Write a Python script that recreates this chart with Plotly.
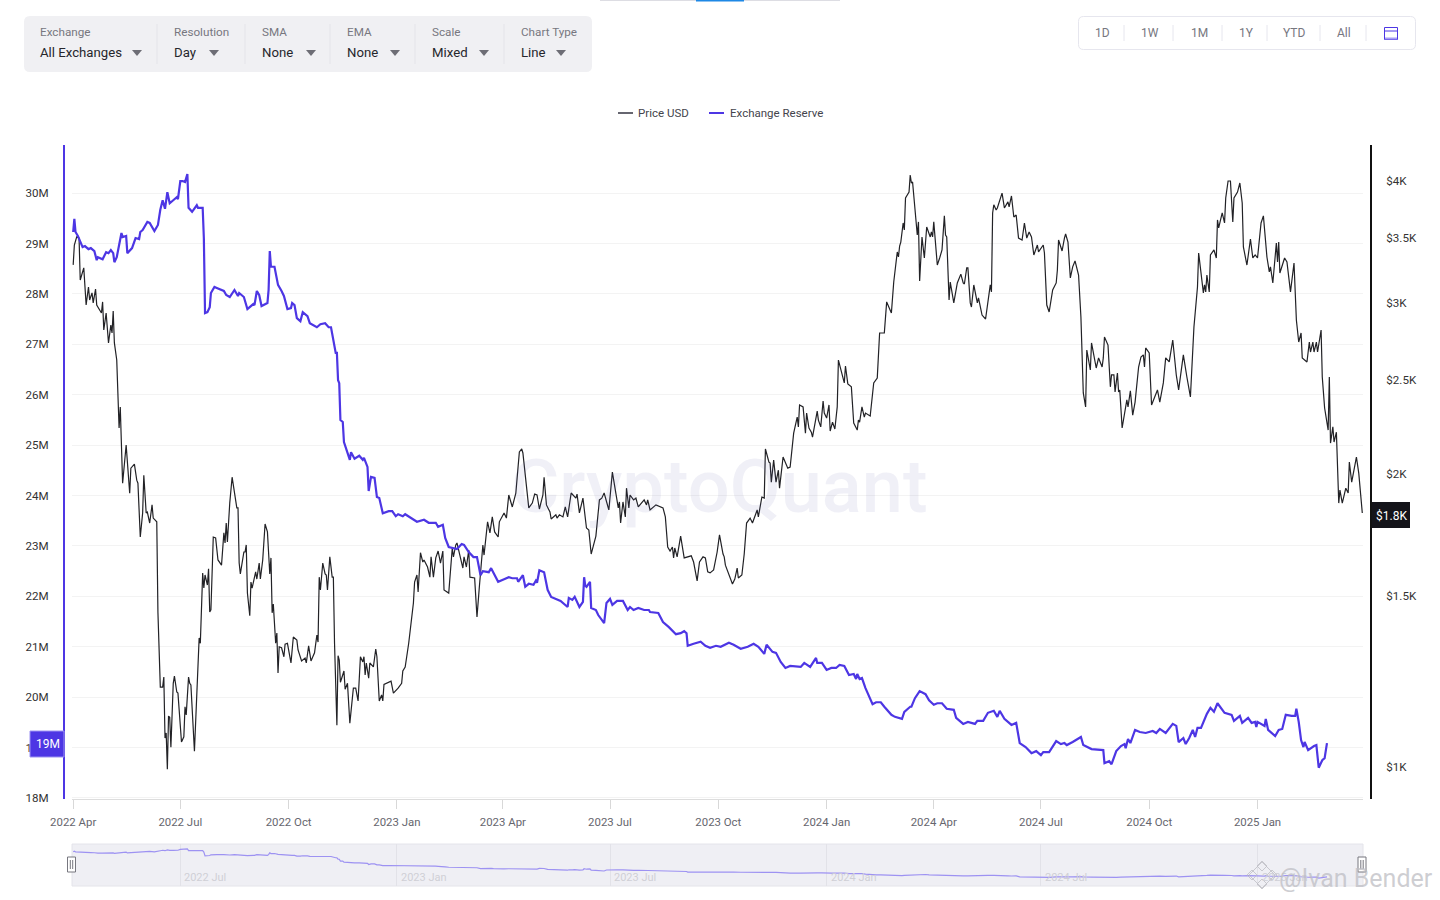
import pandas as pd
import plotly.graph_objects as go

W = 1440
H = 900
FONT = "Roboto"

start_date = pd.Timestamp("2022-04-01")

# (days since 2022-04-01, price in USD)
price_points = [
    (0,3280),(1,3438),(3,3505),(5,3495),(6,3165),(8,3226),(9,3257),(11,2983),(13,3113),(14,3019),(16,3070),(17,2998),
    (19,3098),(20,2983),(24,2927),(25,3005),(26,2812),(28,2927),(30,2727),(32,2845),(33,2792),(34,2941),(35,2727),(37,2619),
    (38,2344),(39,2230),(40,2344),(42,1957),(45,2142),(48,1911),(49,2028),(52,2047),(54,1971),(55,1957),(57,1723),(59,1824),
    (60,1994),(62,1824),(63,1828),(65,1781),(67,1859),(68,1802),(71,1786),(72,1440),(74,1208),(76,1208),(77,1237),(78,1071),
    (79,1084),(80,995),(81,1128),(82,1125),(83,1048),(85,1219),(86,1240),(88,1194),(89,1191),(92,1061),(94,1074),(95,1153),
    (96,1131),(98,1237),(99,1219),(100,1214),(103,1038),(105,1191),(106,1237),(107,1357),(108,1340),(110,1582),(111,1527),(112,1575),
    (114,1538),(115,1598),(116,1443),(117,1450),(119,1723),(121,1719),(123,1632),(126,1612),(128,1740),(129,1699),(130,1781),(131,1703),
    (133,1867),(135,1985),(139,1846),(140,1846),(141,1620),(142,1579),(145,1663),(146,1663),(147,1691),(148,1509),(150,1430),(151,1549),
    (152,1527),(155,1587),(156,1560),(158,1620),(159,1560),(161,1632),(163,1777),(165,1744),(167,1579),(168,1640),(169,1440),(170,1470),
    (172,1340),(173,1373),(174,1249),(175,1329),(177,1326),(179,1298),(180,1337),(182,1340),(185,1279),(187,1360),(190,1350),(191,1319),
    (194,1285),(197,1294),(198,1279),(200,1332),(202,1285),(205,1310),(207,1366),(208,1344),(209,1567),(210,1520),(212,1620),(214,1579),
    (215,1575),(216,1520),(218,1644),(220,1567),(221,1567),(222,1340),(224,1104),(225,1301),(226,1288),(227,1222),(230,1255),(231,1202),
    (233,1219),(235,1109),(238,1205),(240,1205),(242,1169),(244,1298),(246,1282),(247,1298),(248,1243),(249,1279),(251,1234),(252,1279),
    (255,1267),(257,1322),(258,1298),(260,1169),(262,1186),(263,1169),(264,1216),(270,1225),(272,1191),(276,1205),(279,1219),(280,1255),
    (282,1267),(285,1340),(289,1474),(290,1549),(292,1575),(293,1513),(295,1660),(297,1624),(298,1632),(301,1605),(303,1567),(304,1644),
    (306,1567),(308,1640),(310,1667),(312,1620),(314,1667),(315,1520),(319,1509),(322,1679),(323,1644),(325,1691),(326,1699),(329,1640),
    (331,1601),(332,1644),(334,1605),(336,1671),(337,1567),(341,1564),(343,1426),(345,1531),(348,1691),(349,1651),(351,1752),(352,1786),
    (354,1740),(356,1807),(358,1744),(361,1723),(362,1786),(366,1824),(368,1802),(370,1903),(373,1850),(376,1912),(379,2107),(381,2122),
    (382,2102),(385,1939),(387,1846),(390,1867),(392,1907),(394,1903),(396,1841),(399,1903),(400,1985),(402,1859),(405,1828),(406,1798),
    (410,1816),(411,1802),(413,1816),(416,1807),(418,1850),(420,1807),(423,1912),(427,1889),(428,1907),(430,1824),(433,1889),(436,1760),
    (438,1752),(440,1655),(444,1727),(447,1881),(449,1889),(451,1912),(455,1837),(458,2009),(461,1912),(463,1846),(464,1872),(465,1781),
    (467,1872),(469,1807),(470,1934),(472,1846),(473,1903),(476,1881),(478,1889),(480,1850),(485,1881),(487,1859),(488,1881),(490,1837),
    (495,1859),(501,1846),(503,1807),(505,1683),(507,1667),(509,1683),(510,1640),(511,1679),(513,1644),(516,1727),(519,1640),(525,1648),
    (527,1624),(530,1553),(532,1624),(535,1644),(537,1640),(539,1587),(541,1583),(544,1594),(547,1663),(549,1732),(552,1655),(553,1644),
    (554,1612),(557,1575),(560,1542),(562,1560),(564,1601),(565,1564),(568,1575),(570,1655),(572,1781),(575,1802),(577,1781),(581,1837),
    (582,1807),(585,1894),(587,1889),(588,2122),(591,2057),(592,2052),(593,1962),(595,2067),(597,1962),(599,2018),(600,1934),(603,2082),
    (607,2028),(609,2033),(611,2167),(612,2203),(615,2288),(616,2236),(617,2355),(620,2344),(622,2203),(623,2310),(625,2230),(627,2208),
    (628,2182),(632,2321),(633,2272),(635,2236),(637,2377),(638,2310),(640,2283),(642,2355),(643,2214),(645,2261),(647,2225),(649,2344),
    (650,2619),(653,2528),(655,2481),(656,2582),(658,2475),(661,2458),(663,2256),(666,2219),(667,2272),(668,2261),(670,2344),(672,2288),
    (673,2310),(677,2294),(679,2423),(680,2481),(683,2510),(684,2663),(685,2792),(689,2792),(691,3005),(695,2927),(697,3150),(700,3382),
    (701,3342),(702,3430),(703,3462),(705,3622),(706,3563),(707,3843),(710,3897),(711,4057),(712,3981),(713,3991),(717,3520),(718,3631),
    (719,3158),(721,3504),(723,3334),(725,3588),(728,3504),(729,3546),(730,3504),(731,3631),(734,3279),(736,3334),(738,3398),(740,3683),
    (741,3520),(742,3504),(744,3019),(745,3150),(748,2998),(751,3143),(754,3209),(756,3143),(757,3135),(759,3257),(760,3257),(762,2998),
    (763,2969),(765,3128),(768,2998),(769,3033),(772,2913),(775,2886),(777,3019),(779,3128),(780,3077),(781,3709),(782,3781),(784,3735),
    (785,3753),(789,3887),(791,3753),(794,3807),(795,3762),(797,3861),(799,3674),(801,3691),(803,3495),(806,3479),(808,3622),(810,3495),
    (812,3546),(814,3504),(816,3358),(819,3438),(820,3382),(824,3438),(825,3374),(827,2983),(829,2934),(832,3091),(835,3143),(836,3241),
    (837,3479),(840,3390),(842,3495),(843,3529),(845,3462),(847,3180),(849,3265),(851,3311),(854,3202),(856,2899),(858,2423),(860,2344),
    (861,2682),(863,2594),(864,2558),(865,2727),(869,2570),(871,2632),(874,2576),(875,2632),(876,2766),(879,2713),(881,2458),(882,2528),
    (884,2528),(885,2429),(887,2540),(888,2429),(889,2440),(891,2230),(893,2310),(895,2383),(896,2344),(898,2435),(900,2299),(902,2371),
    (905,2576),(907,2638),(909,2651),(910,2576),(911,2695),(914,2663),(916,2355),(920,2429),(921,2440),(923,2371),(926,2481),(928,2632),
    (931,2607),(934,2746),(937,2528),(939,2440),(943,2651),(946,2516),(949,2400),(952,2832),(955,3113),(956,3374),(960,3070),(961,3128),
    (962,3077),(963,3202),(965,3077),(966,3358),(969,3398),(971,3334),(972,3648),(973,3580),(976,3709),(978,3622),(979,3843),(981,4000),
    (983,4000),(985,3631),(986,3843),(989,3897),(991,3981),(993,3798),(994,3422),(997,3279),(1000,3487),(1002,3334),(1004,3358),(1006,3334),
    (1009,3622),(1011,3683),(1014,3342),(1016,3226),(1017,3265),(1019,3143),(1022,3454),(1023,3303),(1024,3462),(1025,3218),(1028,3318),(1029,3334),
    (1031,3303),(1034,3077),(1037,3295),(1039,2879),(1041,2733),(1043,2792),(1044,2632),(1048,2607),(1050,2733),(1051,2669),(1053,2733),(1054,2669),
    (1056,2733),(1057,2669),(1060,2812),(1061,2516),(1063,2338),(1066,2219),(1067,2516),(1068,2152),(1070,2236),(1071,2157),(1073,2208),(1075,1867),
    (1076,1925),(1078,1867),(1081,1934),(1083,1912),(1084,2057),(1086,1962),(1090,2082),(1092,2004),(1095,1824),
]

# (days since 2022-04-01, exchange reserve in millions)
reserve_points = [
    (0,29.23),(1,29.49),(2,29.23),(4,29.15),(8,28.93),(10,28.95),(13,28.89),(15,28.91),(18,28.85),(20,28.67),(21,28.73),(25,28.69),
    (28,28.83),(30,28.81),(32,28.87),(34,28.81),(35,28.63),(37,28.73),(41,29.21),(42,29.13),(45,29.15),(46,28.81),(50,28.91),(53,29.11),
    (56,29.09),(57,29.23),(59,29.27),(63,29.43),(65,29.41),(69,29.25),(72,29.37),(74,29.67),(76,29.86),(78,29.69),(80,30.02),(82,29.80),
    (85,29.86),(88,29.92),(89,29.88),(91,30.24),(93,30.24),(95,30.22),(97,30.38),(98,29.71),(101,29.63),(105,29.76),(106,29.71),(110,29.71),
    (111,29.11),(112,27.62),(114,27.64),(116,27.74),(117,28.02),(120,28.14),(122,28.12),(128,28.06),(130,27.98),(133,27.94),(137,28.08),(140,27.96),
    (141,28.02),(145,27.94),(148,27.70),(153,27.80),(154,27.78),(156,28.06),(158,27.98),(160,27.76),(165,27.82),(166,28.08),(167,28.85),(168,28.54),
    (171,28.54),(174,28.18),(177,28.06),(179,27.96),(182,27.70),(185,27.72),(186,27.82),(188,27.78),(190,27.52),(193,27.46),(195,27.64),(199,27.56),
    (201,27.42),(207,27.34),(210,27.40),(214,27.42),(217,27.34),(219,27.34),(223,26.83),(224,26.83),(225,26.29),(226,26.23),(227,25.50),(229,25.46),
    (230,25.06),(233,24.86),(235,24.71),(236,24.86),(239,24.73),(243,24.79),(246,24.71),(247,24.75),(250,24.57),(251,24.09),(253,24.37),(256,24.35),
    (258,23.97),(260,23.95),(263,23.65),(268,23.69),(271,23.69),(274,23.59),(276,23.63),(280,23.59),(282,23.63),(286,23.57),(292,23.48),(298,23.52),
    (302,23.46),(308,23.46),(310,23.38),(314,23.42),(316,23.16),(319,22.98),(326,22.94),(330,23.04),(332,23.02),(336,22.88),(340,22.78),(343,22.78),
    (346,22.42),(348,22.50),(353,22.48),(355,22.56),(357,22.46),(361,22.29),(366,22.34),(370,22.38),(373,22.36),(377,22.36),(378,22.29),(382,22.42),
    (384,22.19),(387,22.25),(391,22.23),(393,22.31),(394,22.27),(396,22.52),(400,22.48),(403,22.13),(406,21.99),(411,21.93),(414,21.91),(420,21.79),
    (421,21.97),(424,21.93),(426,21.99),(430,21.79),(433,21.89),(434,22.38),(435,22.21),(436,22.19),(439,22.29),(440,21.77),(444,21.73),(446,21.63),
    (451,21.47),(453,21.87),(456,21.95),(458,21.83),(462,21.91),(467,21.91),(471,21.73),(473,21.79),(476,21.73),(480,21.77),(485,21.73),(489,21.73),
    (490,21.69),(497,21.67),(501,21.49),(506,21.39),(512,21.25),(516,21.27),(519,21.31),(521,21.27),(522,21.02),(527,21.06),(533,21.10),(537,21.02),
    (541,20.98),(546,21.02),(550,21.00),(557,21.08),(561,21.04),(567,20.96),(573,21.00),(578,21.06),(582,21.00),(587,20.86),(589,21.04),(594,20.90),
    (597,20.88),(601,20.70),(605,20.58),(609,20.62),(618,20.60),(621,20.68),(626,20.60),(631,20.78),(632,20.68),(636,20.68),(640,20.54),(644,20.58),
    (648,20.58),(651,20.64),(655,20.62),(659,20.44),(663,20.46),(665,20.36),(666,20.46),(668,20.36),(670,20.38),(673,20.18),(679,19.86),(682,19.90),
    (686,19.90),(689,19.81),(695,19.65),(698,19.61),(704,19.57),(706,19.71),(711,19.81),(712,19.81),(715,19.98),(719,20.12),(724,20.06),(727,19.94),
    (731,19.85),(734,19.88),(738,19.88),(742,19.77),(748,19.75),(750,19.59),(756,19.47),(760,19.51),(766,19.47),(768,19.53),(773,19.53),(777,19.69),
    (782,19.73),(785,19.61),(787,19.73),(791,19.57),(794,19.51),(797,19.45),(801,19.49),(804,19.09),(809,19.01),(814,18.89),(818,18.93),(822,18.85),
    (824,18.91),(829,18.91),(835,19.13),(839,19.07),(842,19.09),(844,19.05),(849,19.11),(856,19.21),(858,19.05),(865,18.97),(875,18.95),(876,18.69),
    (880,18.73),(882,18.67),(886,18.93),(890,19.03),(893,19.07),(894,18.99),(896,19.17),(898,19.09),(902,19.35),(906,19.31),(911,19.29),(917,19.33),
    (920,19.29),(923,19.37),(928,19.29),(934,19.47),(937,19.43),(939,19.11),(943,19.19),(945,19.07),(948,19.19),(951,19.35),(953,19.21),(955,19.39),
    (958,19.39),(963,19.67),(966,19.79),(969,19.71),(972,19.88),(978,19.69),(984,19.65),(986,19.53),(991,19.63),(993,19.49),(998,19.59),(1001,19.49),
    (1004,19.51),(1005,19.41),(1006,19.51),(1012,19.43),(1013,19.57),(1015,19.35),(1021,19.23),(1024,19.35),(1027,19.37),(1030,19.65),(1035,19.63),(1038,19.63),
    (1039,19.77),(1041,19.51),(1043,19.15),(1045,19.01),(1046,19.11),(1049,18.95),(1054,19.03),(1056,19.05),(1058,18.60),(1061,18.75),(1063,18.79),(1065,19.09),
]

reserve_ticks = list(range(18, 31))
reserve_tick_labels = [f"{t}M" for t in reserve_ticks]
price_ticks = [1000, 1500, 2000, 2500, 3000, 3500, 4000]
price_tick_labels = ["$1K", "$1.5K", "$2K", "$2.5K", "$3K", "$3.5K", "$4K"]
nav_ticks = ["2022-07-01", "2023-01-01", "2023-07-01", "2024-01-01", "2024-07-01", "2025-01-01"]
nav_tick_labels = ["2022 Jul", "2023 Jan", "2023 Jul", "2024 Jan", "2024 Jul", "2025 Jan"]

toolbar_labels = ["Exchange", "Resolution", "SMA", "EMA", "Scale", "Chart Type"]
toolbar_values = ["All Exchanges", "Day", "None", "None", "Mixed", "Line"]
toolbar_x = [38, 172, 260, 345, 430, 519]
toolbar_arrow_x = [137, 214, 311, 395, 484, 561]
toolbar_sep_x = [157, 245, 330, 415, 504]

range_labels = ["1D", "1W", "1M", "1Y", "YTD", "All"]
range_x = [1102, 1150, 1199, 1246, 1294, 1344]
range_sep_x = [1124, 1173, 1222, 1267, 1320, 1366]

PURPLE = "#4d36e4"
BLACK = "#222226"


def px(x):
    return x / W


def py(y):
    return 1 - y / H


def to_dates(points):
    return [start_date + pd.Timedelta(days=p[0]) for p in points]


def box(x0, y0, x1, y1, fill=None, line=None, width=1, r=0, layer="above"):
    # rounded rectangle given in page pixels
    p = (
        f"M {px(x0 + r)} {py(y0)} L {px(x1 - r)} {py(y0)} Q {px(x1)} {py(y0)} {px(x1)} {py(y0 + r)} "
        f"L {px(x1)} {py(y1 - r)} Q {px(x1)} {py(y1)} {px(x1 - r)} {py(y1)} "
        f"L {px(x0 + r)} {py(y1)} Q {px(x0)} {py(y1)} {px(x0)} {py(y1 - r)} "
        f"L {px(x0)} {py(y0 + r)} Q {px(x0)} {py(y0)} {px(x0 + r)} {py(y0)} Z"
    )
    return dict(type="path", path=p, xref="paper", yref="paper", fillcolor=fill,
                line=dict(color=line if line else "rgba(0,0,0,0)", width=width if line else 0), layer=layer)


def seg(x0, y0, x1, y1, color, width=1):
    return dict(type="line", xref="paper", yref="paper", x0=px(x0), x1=px(x1), y0=py(y0), y1=py(y1),
                line=dict(color=color, width=width))


def poly(pts, fill=None, line=None, width=1):
    p = "M " + " L ".join(f"{px(a)} {py(b)}" for a, b in pts) + " Z"
    return dict(type="path", path=p, xref="paper", yref="paper", fillcolor=fill,
                line=dict(color=line if line else "rgba(0,0,0,0)", width=width if line else 0))


def label(x, y, text, size=12, color="#333", xanchor="left", **kw):
    return dict(text=text, x=px(x), y=py(y), xref="paper", yref="paper", xanchor=xanchor, yanchor="middle",
                showarrow=False, font=dict(family=FONT, size=size, color=color), **kw)


fig = go.Figure()

fig.add_trace(go.Scatter(
    x=to_dates(price_points), y=[p[1] for p in price_points],
    mode="lines", name="Price USD", line=dict(color=BLACK, width=1.2), xaxis="x", yaxis="y",
))
fig.add_trace(go.Scatter(
    x=to_dates(reserve_points), y=[p[1] for p in reserve_points],
    mode="lines", name="Exchange Reserve", line=dict(color=PURPLE, width=2.2), xaxis="x", yaxis="y2",
))
fig.add_trace(go.Scatter(
    x=to_dates(reserve_points), y=[p[1] for p in reserve_points],
    mode="lines", line=dict(color="#9d92f2", width=1.2), xaxis="x2", yaxis="y3", showlegend=False,
))

shapes = []
annotations = []

# top tab sliver
shapes.append(seg(600, 0.5, 840, 0.5, "#dddde3", 1))
shapes.append(seg(696, 0.5, 744, 0.5, "#1e88e5", 2))

# toolbar
shapes.append(box(24, 16, 592, 72, fill="#f0f0f3", r=6))
for x in toolbar_sep_x:
    shapes.append(seg(x, 24, x, 64, "#e4e4e9"))
for x, name, value, ax in zip(toolbar_x, toolbar_labels, toolbar_values, toolbar_arrow_x):
    annotations.append(label(x, 32, name, size=11.7, color="#77777f"))
    annotations.append(label(x, 52.5, value, size=13.2, color="#26262c"))
    shapes.append(poly([(ax - 5, 50), (ax + 5, 50), (ax, 56)], fill="#6d6d75"))

# range buttons
shapes.append(box(1078.5, 16.5, 1415.5, 49.5, fill="#ffffff", line="#e6e6ee", r=5))
for x in range_sep_x:
    shapes.append(seg(x, 25, x, 41, "#e6e6ee"))
for x, name in zip(range_x, range_labels):
    annotations.append(label(x, 33, name, size=12, color="#77777f", xanchor="center"))
shapes.append(box(1384.5, 27.5, 1397.5, 39.5, line=PURPLE, width=1))
shapes.append(seg(1385, 31, 1397, 31, PURPLE))
shapes.append(seg(1385, 38.5, 1397, 38.5, "#a79df3", 2))

# legend
shapes.append(seg(618, 113, 633, 113, "#666670", 2))
annotations.append(label(636, 113, "Price USD", size=11.5, color="#44444c"))
shapes.append(seg(709, 113, 724, 113, PURPLE, 2))
annotations.append(label(728, 113, "Exchange Reserve", size=11.5, color="#44444c"))

# watermark
wm = label(719, 486, "CryptoQuant", size=74, color="rgba(90,90,170,0.09)", xanchor="center")
wm["font"]["weight"] = 500
annotations.append(wm)

# last value badges
annotations.append(label(47.5, 744, reserve_tick_labels[1], size=12, color="#ffffff", xanchor="center"))
shapes.append(box(30, 731, 64, 757, fill=PURPLE, line="#9d92f2"))
shapes.append(box(1372, 502, 1410, 528, fill="#14141a"))
annotations.append(label(1391, 515.5, "$1.8K", size=12, color="#ffffff", xanchor="center"))

# navigator
shapes.append(box(72, 844, 1363, 886, fill="#efeff4", line="#e4e4ea", layer="below"))
for x in [71.5, 1362]:
    shapes.append(box(x - 4, 857, x + 4, 872, fill="#ffffff", line="#77777f"))
    shapes.append(seg(x - 1.2, 860, x - 1.2, 869, "#77777f"))
    shapes.append(seg(x + 1.2, 860, x + 1.2, 869, "#77777f"))
for d, t in zip(nav_ticks, nav_tick_labels):
    annotations.append(dict(text=t, x=d, y=py(877), xref="x2", yref="paper", xanchor="left", yanchor="middle",
                            xshift=2, showarrow=False, font=dict(family=FONT, size=11, color="#cfcfd6")))

# screenshot credit, bottom right
annotations.append(label(1277, 878, "@Ivan Bender", size=25, color="rgba(190,190,196,0.75)"))
for cx, cy, s in [(1262, 866, 5), (1252, 875, 5), (1272, 875, 5), (1262, 884, 5), (1262, 875, 13)]:
    shapes.append(poly([(cx, cy - s), (cx + s, cy), (cx, cy + s), (cx - s, cy)], line="rgba(190,190,196,0.8)"))

x_range = [start_date + pd.Timedelta(days=-1), start_date + pd.Timedelta(days=1095.6)]

fig.update_layout(
    width=W,
    height=H,
    margin=dict(l=0, r=0, t=0, b=0, autoexpand=False),
    paper_bgcolor="#ffffff",
    plot_bgcolor="#ffffff",
    showlegend=False,
    hovermode=False,
    font=dict(family=FONT, size=12, color="#333"),
    xaxis=dict(
        domain=[px(72), px(1363)], range=x_range, anchor="y", type="date",
        dtick="M3", tick0="2022-04-01", tickformat="%Y %b",
        ticks="outside", ticklen=9, tickcolor="#d8d8d8", showgrid=False,
        showline=True, linecolor="#dddddd", linewidth=1, ticklabelstandoff=3,
        tickfont=dict(family=FONT, size=11.4, color="#66666e"),
    ),
    yaxis=dict(
        domain=[py(799), py(145)], type="log", range=[2.96712, 3.63906],
        anchor="free", position=px(1371), side="right",
        tickvals=price_ticks, ticktext=price_tick_labels, showgrid=False,
        showline=True, linecolor="#111111", linewidth=2, ticklabelstandoff=12,
        tickfont=dict(family=FONT, size=11.6, color="#333"), zeroline=False,
    ),
    yaxis2=dict(
        overlaying="y", side="left", anchor="free", position=px(64),
        range=[17.98, 30.956], tickvals=reserve_ticks, ticktext=reserve_tick_labels,
        showgrid=True, gridcolor="#f3f3f3", gridwidth=1,
        showline=True, linecolor=PURPLE, linewidth=2, ticklabelstandoff=12,
        tickfont=dict(family=FONT, size=11.6, color="#333"), zeroline=False,
    ),
    xaxis2=dict(
        domain=[px(72), px(1363)], range=x_range, anchor="y3", type="date",
        tickvals=nav_ticks, showticklabels=False, showgrid=True, gridcolor="#e2e2e8",
        ticks="", showline=False, zeroline=False,
    ),
    yaxis3=dict(
        domain=[py(886), py(844)], range=[15.4, 32.4], anchor="x2",
        showticklabels=False, showgrid=False, zeroline=False, ticks="", showline=False,
    ),
    shapes=shapes,
    annotations=annotations,
)

fig.write_html(
    "out.html",
    config={"displayModeBar": False},
    post_script="document.body.style.margin='0';document.body.style.overflow='hidden';",
)
